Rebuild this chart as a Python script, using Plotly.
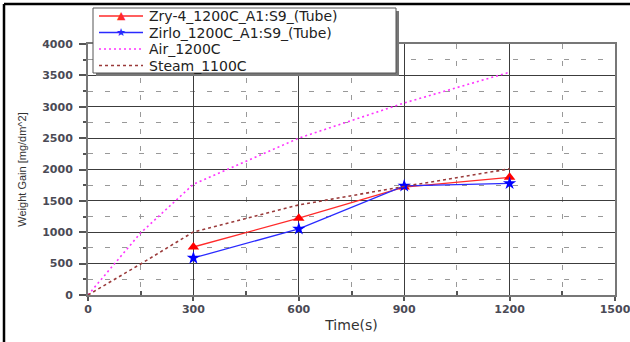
import plotly.graph_objects as go

time_pts = [300, 600, 900, 1200]
zry4 = [765, 1225, 1720, 1875]
zirlo = [590, 1055, 1740, 1780]

air_time = [0, 75, 150, 300, 600, 900, 1200]
air = [0, 490, 990, 1765, 2500, 3060, 3550]

steam_time = [0, 150, 300, 600, 900, 1200]
steam = [0, 495, 1005, 1435, 1730, 2010]

x_ticks = [0, 300, 600, 900, 1200, 1500]
y_ticks = [0, 500, 1000, 1500, 2000, 2500, 3000, 3500, 4000]

names = ["Zry-4_1200C_A1:S9_(Tube)", "Zirlo_1200C_A1:S9_(Tube)", "Air_1200C", "Steam_1100C"]
colors = ["#ff2a2a", "#2a2aff", "#ff33ff", "#9a3a3a"]
dashes = ["solid", "solid", "2px,3px", "3px,3px"]
symbols = ["▲", "★", None, None]

W, H = 630, 342
ML, MR, MT, MB = 88, 15, 44, 47
PW, PH = W - ML - MR, H - MT - MB

def px(xp):
    return (xp - ML) / PW

def py(yp):
    return (H - MB - yp) / PH

fig = go.Figure()
fig.add_trace(go.Scatter(x=time_pts, y=zry4, mode="lines+markers", name=names[0],
                         line=dict(color=colors[0], width=1.3),
                         marker=dict(symbol="triangle-up", size=10, color="#ff0000")))
fig.add_trace(go.Scatter(x=time_pts, y=zirlo, mode="lines+markers", name=names[1],
                         line=dict(color=colors[1], width=1.3),
                         marker=dict(symbol="star", size=10, color="#0000ff")))
fig.add_trace(go.Scatter(x=air_time, y=air, mode="lines", name=names[2],
                         line=dict(color=colors[2], width=1.6, dash=dashes[2])))
fig.add_trace(go.Scatter(x=steam_time, y=steam, mode="lines", name=names[3],
                         line=dict(color=colors[3], width=1.6, dash=dashes[3])))

axis_common = dict(
    showline=True, linecolor="#777", linewidth=2, mirror=True,
    showgrid=True, gridcolor="#3c3c3c", gridwidth=1.3,
    ticks="outside", tickcolor="#555", tickwidth=1.5,
    tickfont=dict(family="DejaVu Sans", size=11, color="#4a4a55", weight="bold"),
    zeroline=False, ticklabeloverflow="allow", automargin=False,
)

fig.update_xaxes(range=[0, 1500], tickvals=x_ticks, ticktext=[str(v) for v in x_ticks],
                 ticklen=4, ticklabelstandoff=-1,
                 minor=dict(tickvals=[150, 450, 750, 1050, 1350], showgrid=True,
                            gridcolor="#999", griddash="5px,12px", gridwidth=1,
                            ticks="inside", ticklen=4, tickcolor="#555"),
                 title=dict(text="Time(s)", font=dict(family="DejaVu Sans", size=14, color="#333"),
                            standoff=5),
                 **axis_common)
fig.update_yaxes(range=[0, 4000], tickvals=y_ticks, ticktext=[str(v) for v in y_ticks],
                 ticklen=7, ticklabelstandoff=4,
                 minor=dict(tickvals=[250, 750, 1250, 1750, 2250, 2750, 3250, 3750], showgrid=True,
                            gridcolor="#999", griddash="5px,12px", gridwidth=1,
                            ticks="outside", ticklen=3, tickcolor="#555"),
                 title=dict(text="Weight Gain [mg/dm^2]",
                            font=dict(family="Arial, Liberation Sans, sans-serif", size=11, color="#333"),
                            standoff=13),
                 **axis_common)

# outer frame (top & left)
fig.add_shape(type="line", xref="paper", yref="paper",
              x0=px(4), y0=py(345), x1=px(4), y1=py(4),
              line=dict(color="black", width=2.5))
fig.add_shape(type="line", xref="paper", yref="paper",
              x0=px(4), y0=py(4), x1=px(635), y1=py(4),
              line=dict(color="black", width=2.5))

# legend box with shadow
LX0, LX1, LY0, LY1 = 93, 396, 8, 73
fig.add_shape(type="rect", xref="paper", yref="paper", layer="above",
              x0=px(LX0 + 3), x1=px(LX1 + 3), y0=py(LY0 + 3), y1=py(LY1 + 3),
              fillcolor="#777", line=dict(width=0))
fig.add_shape(type="rect", xref="paper", yref="paper", layer="above",
              x0=px(LX0), x1=px(LX1), y0=py(LY0), y1=py(LY1),
              fillcolor="white", line=dict(color="#555", width=1))
rows = [16, 32.5, 49, 65.5]
for i, name in enumerate(names):
    yr = rows[i]
    fig.add_shape(type="line", xref="paper", yref="paper", layer="above",
                  x0=px(99), x1=px(143), y0=py(yr), y1=py(yr),
                  line=dict(color=colors[i], width=1.5 if i < 2 else 1.6, dash=dashes[i]))
    if symbols[i]:
        fig.add_annotation(xref="paper", yref="paper", x=px(121), y=py(yr - 0.5),
                           text=symbols[i], showarrow=False, xanchor="center", yanchor="middle",
                           font=dict(family="DejaVu Sans", size=11, color=colors[i]))
    fig.add_annotation(xref="paper", yref="paper", x=px(147), y=py(yr),
                       text=name, showarrow=False, xanchor="left", yanchor="middle",
                       font=dict(family="DejaVu Sans", size=14, color="#222"))

fig.update_layout(
    width=W, height=H,
    margin=dict(l=ML, r=MR, t=MT, b=MB),
    paper_bgcolor="white", plot_bgcolor="white",
    showlegend=False,
)

fig.write_html("out.html", config={"displayModeBar": False},
               post_script="document.body.style.margin='0';document.body.style.overflow='hidden';")
